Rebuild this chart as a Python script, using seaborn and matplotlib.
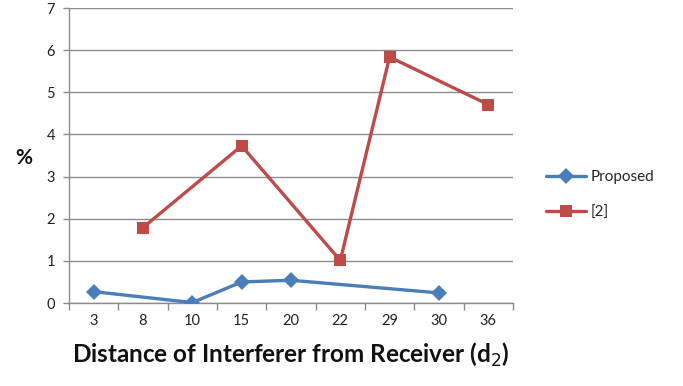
import numpy as np
import pandas as pd
import matplotlib
matplotlib.use("Agg")
import matplotlib.pyplot as plt
import seaborn as sns

# Distance categories (d2) and measured error percentages
distances = ["3", "8", "10", "15", "20", "22", "29", "30", "36"]
proposed = [0.27, np.nan, 0.01, 0.50, 0.54, np.nan, np.nan, 0.24, np.nan]
ref2 = [np.nan, 1.79, np.nan, 3.73, np.nan, 1.01, 5.84, np.nan, 4.71]

series_names = ["Proposed", "[2]"]
colors = ["#4A7EBB", "#BE4B48"]
markers = ["D", "s"]

sns.set_theme(style="white")
plt.rcParams["font.family"] = ["Lato", "DejaVu Sans"]

idx = np.arange(len(distances))
df = pd.DataFrame({
    "pos": np.concatenate([idx, idx]),
    "value": proposed + ref2,
    "series": [series_names[0]] * len(idx) + [series_names[1]] * len(idx),
}).dropna()

fig = plt.figure(figsize=(6.83, 3.86), dpi=100)
ax = fig.add_axes([0.101, 0.215, 0.65, 0.764])

for name, col, mk in zip(series_names, colors, markers):
    sub = df[df["series"] == name]
    sns.lineplot(data=sub, x="pos", y="value", ax=ax, color=col, linewidth=2.4,
                 marker=mk, markersize=8 if mk == "D" else 9, markeredgewidth=0,
                 label=name, legend=False, zorder=3)

ax.set_xlim(-0.5, len(distances) - 0.5)
ax.set_ylim(0, 7)
ax.set_yticks(range(0, 8))
ax.yaxis.grid(True, color="#8C8C8C", linewidth=1.0)
ax.set_axisbelow(True)

# category labels centred, tick marks on the category boundaries
ax.set_xticks(idx)
ax.set_xticklabels(distances)
ax.set_xticks(np.arange(-0.5, len(distances)), minor=True)
ax.tick_params(axis="x", which="major", length=0, pad=8, labelsize=10.5, colors="#222222")
ax.tick_params(axis="x", which="minor", length=5, width=1, color="#8C8C8C", direction="out", bottom=True)
ax.tick_params(axis="y", length=4, width=1, color="#8C8C8C", direction="out", left=True,
               labelsize=10.5, colors="#222222", pad=6)

for s in ["top", "right"]:
    ax.spines[s].set_visible(False)
for s in ["left", "bottom"]:
    ax.spines[s].set_color("#8C8C8C")
    ax.spines[s].set_linewidth(1.0)

ax.set_xlabel("Distance of Interferer from Receiver (d$_2$)", fontsize=17.5,
              fontweight="bold", labelpad=9, color="#111111")
ax.set_ylabel("")
fig.text(0.035, 0.59, "%", fontsize=15, fontweight="bold", ha="center", va="center",
         color="#111111")

handles, labels = ax.get_legend_handles_labels()
fig.legend(handles, labels, loc="center left", bbox_to_anchor=(0.78, 0.495),
           frameon=False, fontsize=11, handlelength=2.6, labelspacing=1.4,
           handletextpad=0.3)

fig.savefig("out.png", dpi=100)
